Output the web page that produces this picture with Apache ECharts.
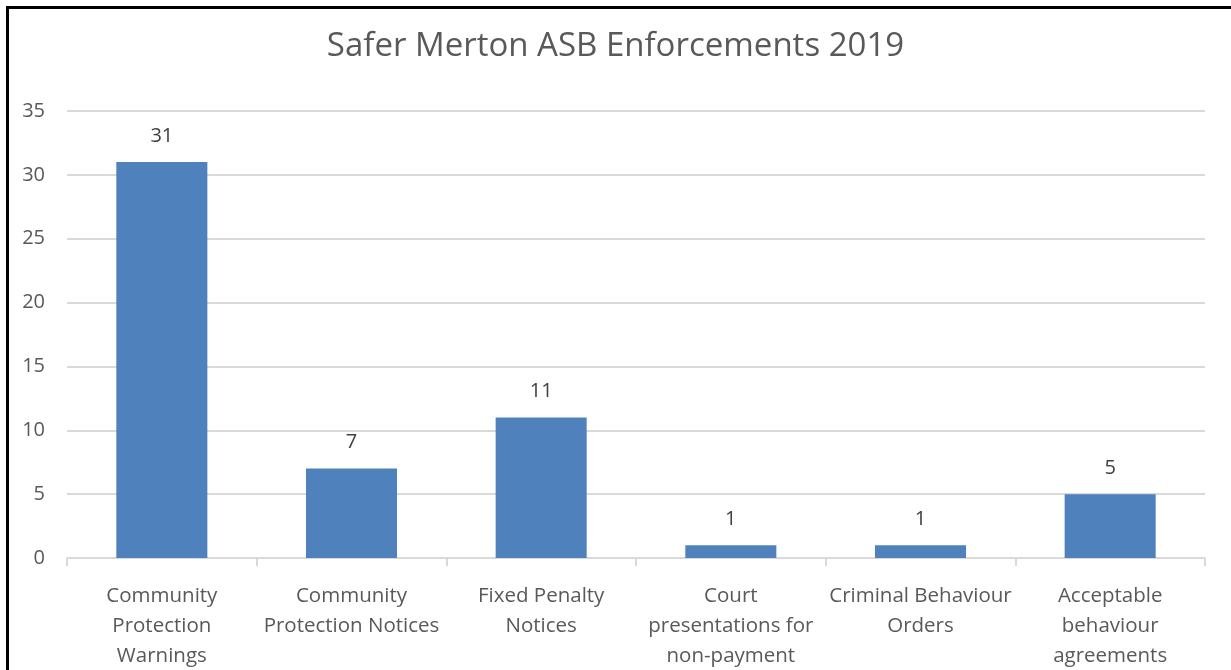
<!DOCTYPE html>
<html>
<head>
<meta charset="utf-8">
<script src="https://cdn.jsdelivr.net/npm/echarts@6/dist/echarts.min.js"></script>
<style>
  html, body { margin: 0; padding: 0; background: #fff; }
  #chart { width: 1231px; height: 670px; }
  .frame {
    position: absolute;
    left: 6px;
    top: 6px;
    right: 0;
    bottom: 0;
    border-top: 3px solid #000;
    border-left: 3px solid #000;
    pointer-events: none;
  }
</style>
</head>
<body>
<div id="chart"></div>
<div class="frame"></div>
<script>
var categories = [
  'Community\nProtection\nWarnings',
  'Community\nProtection Notices',
  'Fixed Penalty\nNotices',
  'Court\npresentations for\nnon-payment',
  'Criminal Behaviour\nOrders',
  'Acceptable\nbehaviour\nagreements'
]
var enforcements = [31, 7, 11, 1, 1, 5]
var titleText = 'Safer Merton ASB Enforcements 2019'

var font = '"Open Sans", sans-serif'
var myechart = echarts.init(document.getElementById('chart'))
var config = {
  animation: false,
  title: {
    text: titleText,
    left: 'center',
    top: 25,
    textStyle: {
      fontFamily: font,
      fontSize: 33,
      fontWeight: 'normal',
      color: '#595959'
    }
  },
  grid: {
    left: 67,
    right: 26,
    top: 111,
    bottom: 112,
    outerBoundsMode: 'none'
  },
  xAxis: {
    type: 'category',
    data: categories,
    axisLine: { lineStyle: { color: '#d9d9d9', width: 2 } },
    axisTick: { show: true, length: 8, lineStyle: { color: '#d9d9d9', width: 2 } },
    axisLabel: {
      interval: 0,
      margin: 23,
      fontFamily: font,
      fontSize: 20.5,
      lineHeight: 30,
      color: '#595959'
    }
  },
  yAxis: {
    type: 'value',
    min: 0,
    max: 35,
    interval: 5,
    axisLine: { show: false },
    axisTick: { show: false },
    splitLine: { lineStyle: { color: '#d9d9d9', width: 2 } },
    axisLabel: {
      margin: 22,
      fontFamily: font,
      fontSize: 20,
      color: '#595959'
    }
  },
  series: [{
    type: 'bar',
    data: enforcements,
    barWidth: '48%',
    itemStyle: { color: '#4f81bd' },
    label: {
      show: true,
      position: 'top',
      distance: 16,
      fontFamily: font,
      fontSize: 20,
      color: '#404040'
    }
  }]
}
myechart.setOption(config)
</script>
</body>
</html>
